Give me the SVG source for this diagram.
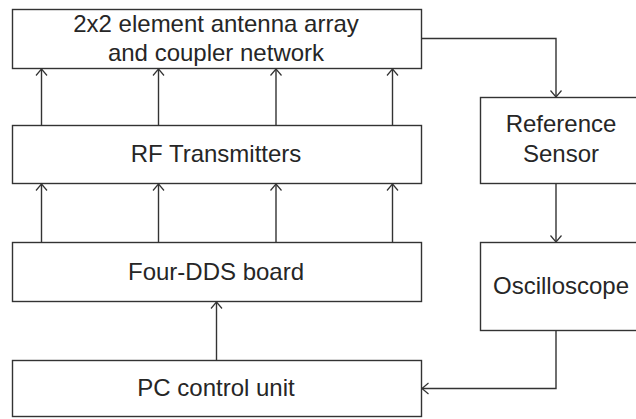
<svg xmlns="http://www.w3.org/2000/svg" width="636" height="419" viewBox="0 0 636 419">
<defs>
<marker id="ah" markerUnits="userSpaceOnUse" markerWidth="14" markerHeight="14" refX="7" refY="7" orient="auto" viewBox="0 0 14 14">
<polyline points="0.5,1.5 7,7 0.5,12.5" fill="none" stroke="#333" stroke-width="1.2"/>
</marker>
<style>
.box{fill:#fff;stroke:#333;stroke-width:1.4}
.lbl{font-family:"Liberation Sans",Arial,sans-serif;font-size:24px;fill:#262626;text-anchor:middle}
.con{fill:none;stroke:#333;stroke-width:1.4}
</style>
</defs>
<rect width="636" height="419" fill="#fff"/>
<g id="antenna">
<rect class="box" x="12.5" y="9.5" width="409" height="59"/>
<text class="lbl" x="216" y="31.5">2x2 element antenna array</text>
<text class="lbl" x="216" y="61">and coupler network</text>
</g>
<g id="rf">
<rect class="box" x="12.5" y="125.5" width="409" height="58"/>
<text class="lbl" x="216" y="161.5">RF Transmitters</text>
</g>
<g id="dds">
<rect class="box" x="12.5" y="242.5" width="409" height="59"/>
<text class="lbl" x="216" y="280">Four-DDS board</text>
</g>
<g id="pc">
<rect class="box" x="12.5" y="360.5" width="409" height="56"/>
<text class="lbl" x="216" y="395.5">PC control unit</text>
</g>
<g id="ref">
<rect class="box" x="480.5" y="97.5" width="165" height="86"/>
<text class="lbl" x="561" y="131.5">Reference</text>
<text class="lbl" x="561" y="161.5">Sensor</text>
</g>
<g id="osc">
<rect class="box" x="480.5" y="242.5" width="165" height="88"/>
<text class="lbl" x="561" y="294">Oscilloscope</text>
</g>
<g id="connectors">
<line class="con" x1="41.5" y1="125.5" x2="41.5" y2="69" marker-end="url(#ah)"/>
<line class="con" x1="158.5" y1="125.5" x2="158.5" y2="69" marker-end="url(#ah)"/>
<line class="con" x1="276" y1="125.5" x2="276" y2="69" marker-end="url(#ah)"/>
<line class="con" x1="392.5" y1="125.5" x2="392.5" y2="69" marker-end="url(#ah)"/>
<line class="con" x1="41.5" y1="242.5" x2="41.5" y2="184" marker-end="url(#ah)"/>
<line class="con" x1="158.5" y1="242.5" x2="158.5" y2="184" marker-end="url(#ah)"/>
<line class="con" x1="276" y1="242.5" x2="276" y2="184" marker-end="url(#ah)"/>
<line class="con" x1="392.5" y1="242.5" x2="392.5" y2="184" marker-end="url(#ah)"/>
<line class="con" x1="216.5" y1="360.5" x2="216.5" y2="302" marker-end="url(#ah)"/>
<polyline class="con" points="421.5,38.5 556,38.5 556,97" marker-end="url(#ah)"/>
<line class="con" x1="556" y1="183.5" x2="556" y2="242" marker-end="url(#ah)"/>
<polyline class="con" points="556,330.5 556,388.5 422,388.5" marker-end="url(#ah)"/>
</g>
</svg>
